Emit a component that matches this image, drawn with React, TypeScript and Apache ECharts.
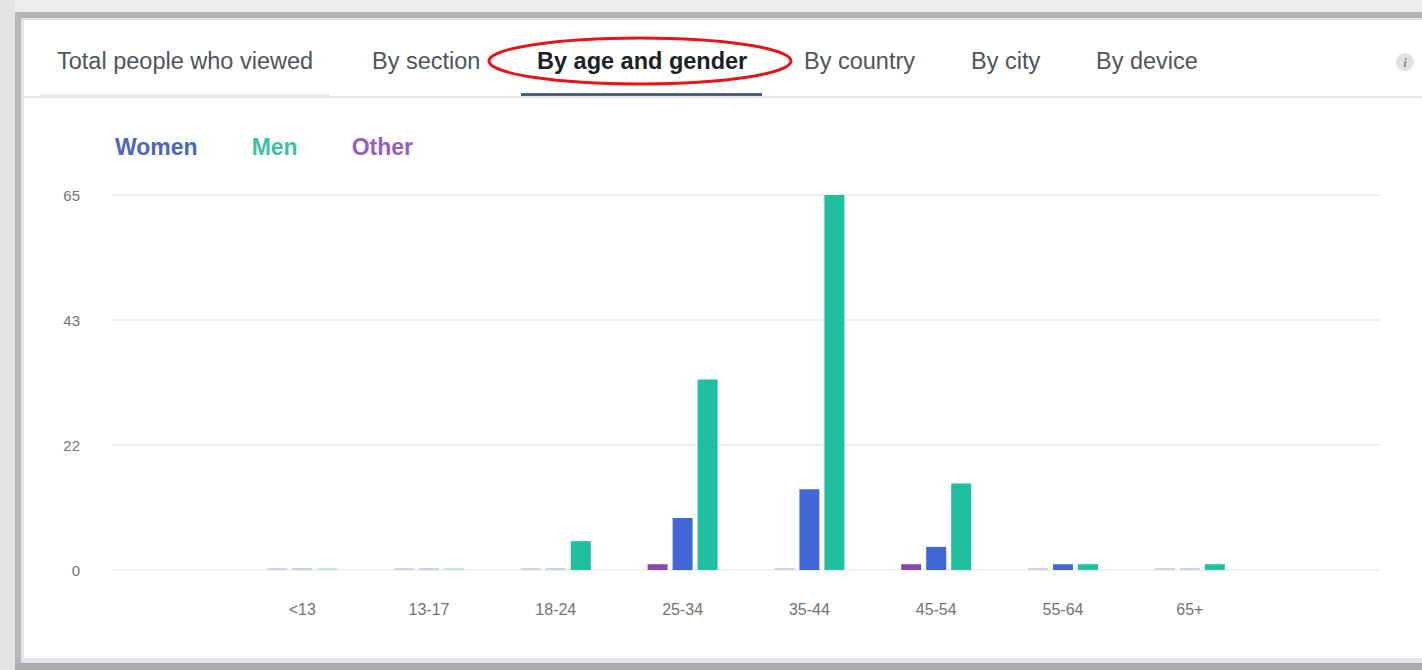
import React, { useEffect, useRef } from "react";
import * as echarts from "echarts";

const categories = ["<13", "13-17", "18-24", "25-34", "35-44", "45-54", "55-64", "65+"];
const otherValues = [0, 0, 0, 1, 0, 1, 0, 0];
const womenValues = [0, 0, 0, 9, 14, 4, 1, 0];
const menValues = [0, 0, 5, 33, 65, 15, 1, 1];
const yTicks = [0, 22, 43, 65];
const tabs = ["Total people who viewed", "By section", "By age and gender", "By country", "By city", "By device"];

const WOMEN = "#4166d5";
const MEN = "#1fbf9f";
const OTHER = "#8a46ad";
const PALE: Record<string, string> = { Women: "#c9d1ea", Men: "#c3e9e1", Other: "#dccfe3" };

export default function App() {
  const ref = useRef<HTMLDivElement>(null);
  useEffect(() => {
    if (!ref.current) return;
    const chart = echarts.init(ref.current, null, { renderer: "svg" });
    const pad = (arr: number[]) => [null, ...arr, null];
    const mk = (name: string, color: string, values: number[]) => ({
      name,
      type: "bar",
      barWidth: 20,
      barGap: "25%",
      barMinHeight: 2,
      itemStyle: { color },
      data: pad(values).map((v) =>
        v === 0 ? { value: 0, itemStyle: { color: PALE[name] } } : v
      ),
    });
    const tabX = [57, 372, 537, 804, 971, 1096];
    const yMax = yTicks[yTicks.length - 1];
    chart.setOption({
      animation: false,
      backgroundColor: "#ededed",
      graphic: [
        { type: "rect", z: -10, shape: { x: 0, y: 0, width: 15, height: 670 }, style: { fill: "#e4e4e4" } },
        { type: "rect", z: -10, shape: { x: 15, y: 12, width: 1407, height: 6 }, style: { fill: "#b4b4b4" } },
        { type: "rect", z: -10, shape: { x: 15, y: 12, width: 6, height: 658 }, style: { fill: "#b8b8b8" } },
        { type: "rect", z: -10, shape: { x: 15, y: 663, width: 1407, height: 7 }, style: { fill: "#ababab" } },
        { type: "rect", z: -9, shape: { x: 21, y: 18, width: 1401, height: 645 }, style: { fill: "#e4e4ea" } },
        { type: "rect", z: -8, shape: { x: 24, y: 20, width: 1398, height: 638 }, style: { fill: "#ffffff" } },
        { type: "rect", z: -7, shape: { x: 24, y: 96, width: 1398, height: 2 }, style: { fill: "#e6e6e6" } },
        { type: "rect", z: -6, shape: { x: 40, y: 94, width: 290, height: 3 }, style: { fill: "#eeeeee" } },
        { type: "rect", z: -6, shape: { x: 521, y: 93, width: 241, height: 3 }, style: { fill: "#4e5d78" } },
        ...tabs.map((t, i) => ({
          type: "text",
          x: tabX[i],
          y: 61,
          style: {
            text: t,
            fill: i === 2 ? "#1d2129" : "#50545b",
            font: (i === 2 ? "bold " : "") + "23.5px 'Liberation Sans', Arial, sans-serif",
            verticalAlign: "middle",
          },
        })),
        {
          type: "ellipse",
          shape: { cx: 640, cy: 61, rx: 151, ry: 23 },
          style: { fill: "none", stroke: "#e8141b", lineWidth: 3 },
        },
        { type: "circle", shape: { cx: 1405, cy: 62, r: 9 }, style: { fill: "#e2e2e2" } },
        {
          type: "text",
          x: 1405,
          y: 62,
          style: { text: "i", fill: "#8a8a8a", font: "italic bold 13px 'Liberation Serif', serif", align: "center", verticalAlign: "middle" },
        },
      ],
      legend: {
        left: 110,
        top: 135,
        padding: 0,
        icon: "none",
        itemWidth: 0,
        itemHeight: 22,
        itemGap: 49,
        selectedMode: false,
        textStyle: { fontSize: 23, fontWeight: "bold", fontFamily: "'Liberation Sans', Arial, sans-serif" },
        data: [
          { name: "Women", textStyle: { color: "#4a68b5" } },
          { name: "Men", textStyle: { color: "#3cc1a6" } },
          { name: "Other", textStyle: { color: "#945fc2" } },
        ],
      },
      grid: { left: 112, right: 42, top: 195, bottom: 100, containLabel: false },
      xAxis: {
        type: "category",
        data: ["", ...categories, ""],
        axisLine: { show: false },
        axisTick: { show: false },
        axisLabel: { color: "#737373", fontSize: 16, margin: 31, fontFamily: "'Liberation Sans', Arial, sans-serif" },
      },
      yAxis: {
        type: "value",
        min: 0,
        max: yMax,
        interval: yMax / 3,
        axisLine: { show: false },
        axisTick: { show: false },
        splitLine: { lineStyle: { color: "#f1f1f1", width: 2 } },
        axisLabel: {
          color: "#737373",
          fontSize: 15,
          margin: 32,
          fontFamily: "'Liberation Sans', Arial, sans-serif",
          formatter: (v: number) => String(Math.round(v)),
        },
      },
      series: [mk("Other", OTHER, otherValues), mk("Women", WOMEN, womenValues), mk("Men", MEN, menValues)],
    });
    return () => chart.dispose();
  }, []);
  return <div ref={ref} style={{ position: "absolute", left: 0, top: 0, width: 1422, height: 670 }} />;
}
